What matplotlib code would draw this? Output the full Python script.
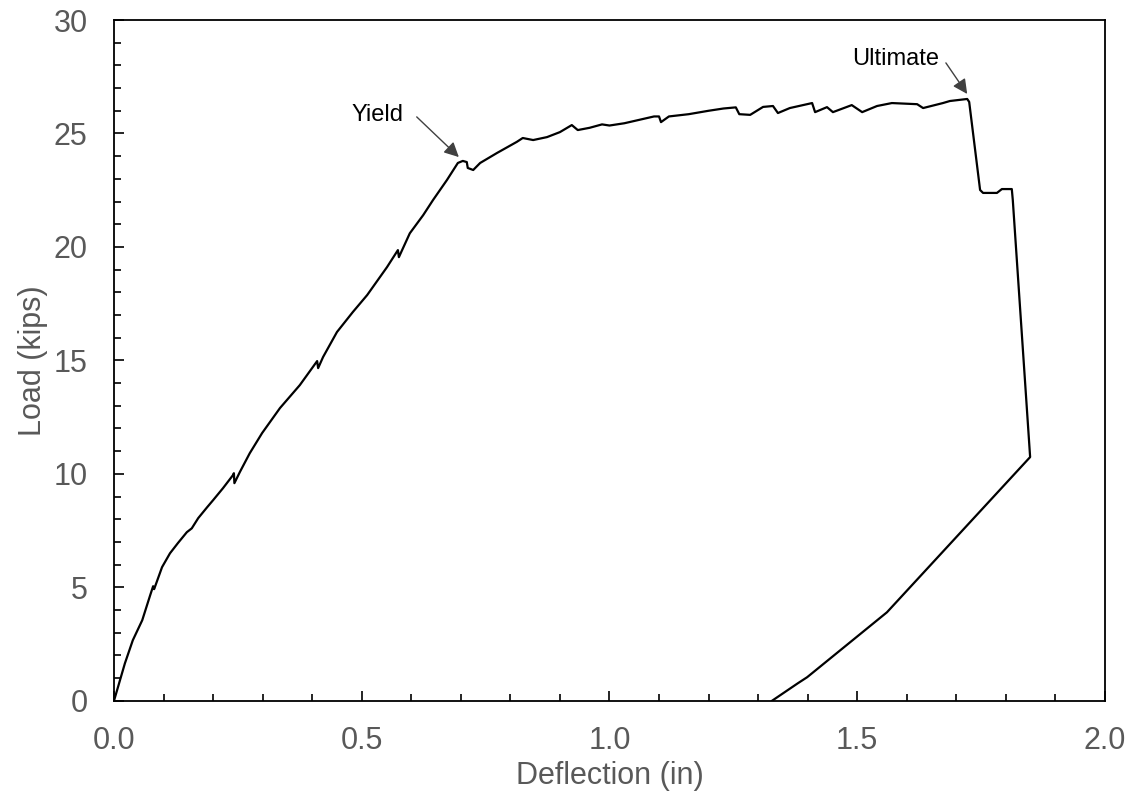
import matplotlib
matplotlib.use('Agg')
import matplotlib.pyplot as plt
from matplotlib.ticker import MultipleLocator, FormatStrFormatter

plt.rcParams['font.family'] = ['Liberation Sans', 'DejaVu Sans']

# load-deflection record
deflection = [
    0.000, 0.022, 0.038, 0.057, 0.073, 0.079, 0.081, 0.097, 0.113, 0.129,
    0.147, 0.157, 0.170, 0.188, 0.200, 0.220, 0.240, 0.242, 0.243, 0.254,
    0.274, 0.299, 0.335, 0.375, 0.410, 0.412, 0.422, 0.450, 0.482, 0.511,
    0.551, 0.573, 0.575, 0.597, 0.624, 0.644, 0.672, 0.694, 0.704, 0.712,
    0.714, 0.725, 0.739, 0.773, 0.813, 0.825, 0.846, 0.874, 0.900, 0.924,
    0.936, 0.960, 0.985, 1.000, 1.030, 1.060, 1.090, 1.100, 1.104, 1.120,
    1.160, 1.200, 1.230, 1.255, 1.262, 1.284, 1.310, 1.330, 1.340, 1.364,
    1.409, 1.415, 1.439, 1.451, 1.489, 1.510, 1.540, 1.570, 1.621, 1.633,
    1.673, 1.687, 1.722, 1.726, 1.748, 1.754, 1.782, 1.792, 1.812, 1.814,
    1.849, 1.560, 1.399, 1.380, 1.328,
]
load = [
    0.00, 1.65, 2.67, 3.55, 4.65, 5.05, 4.92, 5.89, 6.50, 6.95,
    7.43, 7.60, 8.05, 8.53, 8.84, 9.37, 9.94, 10.03, 9.59, 10.08,
    10.91, 11.80, 12.90, 13.91, 14.97, 14.66, 15.15, 16.25, 17.13, 17.88,
    19.11, 19.86, 19.55, 20.60, 21.40, 22.07, 22.95, 23.70, 23.79, 23.74,
    23.48, 23.39, 23.70, 24.14, 24.63, 24.80, 24.71, 24.84, 25.06, 25.37,
    25.15, 25.25, 25.40, 25.35, 25.45, 25.60, 25.75, 25.75, 25.50, 25.75,
    25.85, 26.00, 26.10, 26.15, 25.85, 25.82, 26.17, 26.21, 25.90, 26.12,
    26.34, 25.94, 26.16, 25.94, 26.25, 25.94, 26.21, 26.34, 26.29, 26.12,
    26.34, 26.43, 26.52, 26.39, 22.51, 22.38, 22.38, 22.55, 22.55, 22.07,
    10.74, 3.90, 1.04, 0.77, 0.00,
]

labels = ['Yield', 'Ultimate']
label_xy = [(0.532, 25.82), (1.578, 28.29)]
arrow_tail = [(0.611, 25.73), (1.679, 28.11)]
arrow_tip = [(0.696, 23.96), (1.722, 26.74)]

grey = '#595959'

fig = plt.figure(figsize=(11.32, 8), dpi=100)
ax = fig.add_axes([0.1007, 0.124, 0.8754, 0.851])

ax.plot(deflection, load, color='black', linewidth=1.6)

for text, pos, tail, tip in zip(labels, label_xy, arrow_tail, arrow_tip):
    ax.text(pos[0], pos[1], text, fontsize=17, ha='center', va='center', color='black')
    ax.annotate('', xy=tip, xytext=tail,
                arrowprops=dict(arrowstyle='-|>', color='#404040', lw=1.0,
                                mutation_scale=22, shrinkA=0, shrinkB=0))

ax.set_xlim(0, 2.0)
ax.set_ylim(0, 30)
ax.xaxis.set_major_locator(MultipleLocator(0.5))
ax.xaxis.set_minor_locator(MultipleLocator(0.1))
ax.yaxis.set_major_locator(MultipleLocator(5))
ax.yaxis.set_minor_locator(MultipleLocator(1))
ax.xaxis.set_major_formatter(FormatStrFormatter('%.1f'))

ax.tick_params(which='both', direction='in', color='black', width=1.2)
ax.tick_params(which='major', length=7, labelsize=22, labelcolor=grey)
ax.tick_params(which='minor', length=5)
ax.tick_params(axis='x', pad=18)
ax.tick_params(axis='y', pad=19)

for sp in ax.spines.values():
    sp.set_linewidth(1.3)
    sp.set_color('black')

ax.set_xlabel('Deflection (in)', fontsize=22, color=grey, labelpad=4)
ax.set_ylabel('Load (kips)', fontsize=22, color=grey, labelpad=4)

fig.savefig('out.png', dpi=100)
